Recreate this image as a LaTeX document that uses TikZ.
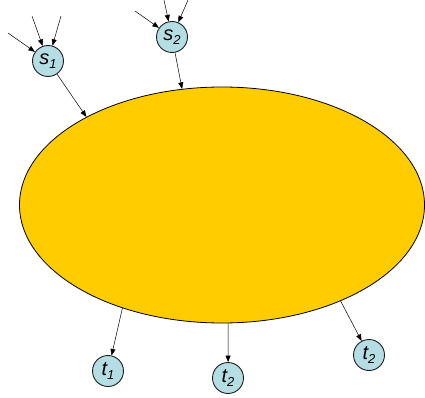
\documentclass[tikz,border=0pt]{standalone}
\usepackage{fontspec}
\setmainfont{Liberation Sans}
\usetikzlibrary{shapes.geometric,arrows.meta}
\definecolor{regionC}{RGB}{255,204,0}
\definecolor{termC}{RGB}{180,222,228}
\definecolor{rimC}{RGB}{30,30,30}

\begin{document}
\begin{tikzpicture}[
  x=1pt, y=-1pt,
  font=\fontsize{20}{22}\selectfont\itshape,
  term/.style={circle, draw=rimC, line width=0.9pt, fill=termC, minimum size=31pt, inner sep=0pt},
  region/.style={ellipse, draw=black, line width=0.8pt, fill=regionC, minimum width=405pt, minimum height=236pt, inner sep=0pt},
  arr/.style={-{Triangle[length=6.5pt, width=5pt]}, line width=0.5pt, color=black},
]
\useasboundingbox (0,0) rectangle (425,398);

% ---------- Region ----------
\node[region] (area) at (222,205) {};

% ---------- Sources ----------
\node[term] (s1) at (48,61) {s\raisebox{-4pt}{\fontsize{13}{13}\selectfont 1}};
\node[term] (s2) at (172,37) {s\raisebox{-4pt}{\fontsize{13}{13}\selectfont 2}};

% free tails feeding the sources
\coordinate (a1) at (8,33);
\coordinate (a2) at (32,16);
\coordinate (a3) at (61,16);
\coordinate (b1) at (135,11);
\coordinate (b2) at (164,0);
\coordinate (b3) at (188,0);
\foreach \c in {a1,a2,a3}{
  \draw[arr] (\c) -- (s1);
}
\foreach \c in {b1,b2,b3}{
  \draw[arr] (\c) -- (s2);
}

\draw[arr] (s1) -- (area.147);
\draw[arr] (s2) -- (area.109);

% ---------- Sinks ----------
\node[term] (t1) at (108,371) {t\raisebox{-4pt}{\fontsize{13}{13}\selectfont 1}};
\node[term] (t2) at (228,378) {t\raisebox{-4pt}{\fontsize{13}{13}\selectfont 2}};
\node[term] (t3) at (369,355) {t\raisebox{-4pt}{\fontsize{13}{13}\selectfont 2}};

\draw[arr] (area.226) -- (t1);
\draw[arr] (area.273) -- (t2);
\draw[arr] (area.321) -- (t3);

\end{tikzpicture}
\end{document}
